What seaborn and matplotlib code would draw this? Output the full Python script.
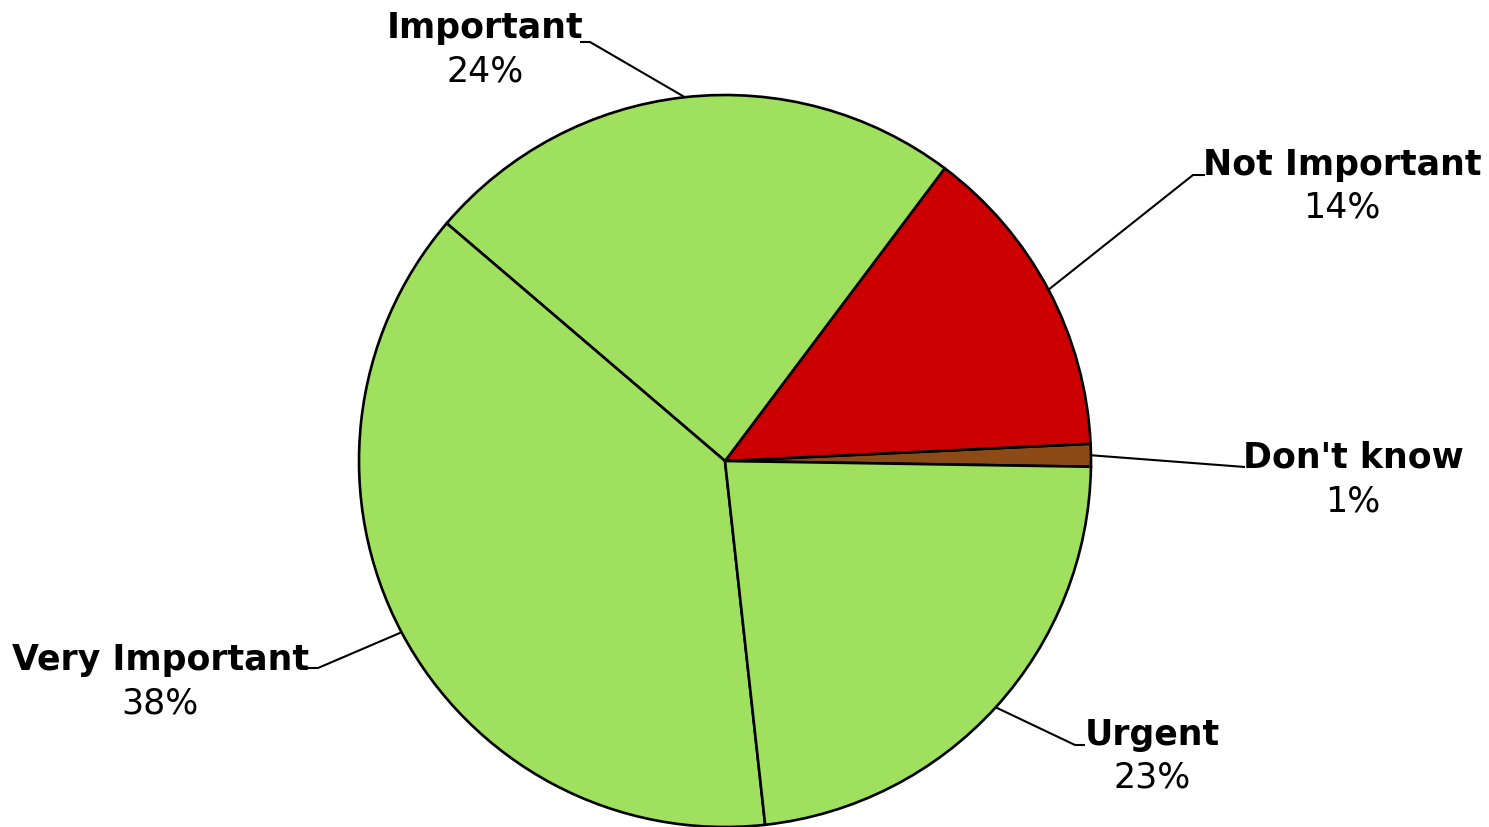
import numpy as np
import matplotlib
matplotlib.use("Agg")
import matplotlib.pyplot as plt
import seaborn as sns

# slices in counter-clockwise order starting at the right
categories = ["Don't know", "Not Important", "Important", "Very Important", "Urgent"]
shares = [1, 14, 24, 38, 23]
pct_labels = ["1%", "14%", "24%", "38%", "23%"]
slice_colors = ["#8b4a16", "#cc0000", "#9fe05e", "#9fe05e", "#9fe05e"]

W, H = 1489, 827

# label layout (pixel coords, y from top): text centre x, name baseline y, elbow, end of horizontal tick
label_pos = {
    "Don't know": (1353, 468, (1245, 467), (1245, 467)),
    "Not Important": (1342, 175, (1193, 175), (1205, 175)),
    "Important": (485, 38, (590, 42), (580, 42)),
    "Very Important": (160, 670, (318, 668), (305, 668)),
    "Urgent": (1152, 745, (1075, 745), (1085, 745)),
}


def fy(y):
    return H - y


sns.set_theme(style="white")
plt.rcParams["font.family"] = ["DejaVu Sans"]

fig = plt.figure(figsize=(W / 100, H / 100), dpi=100)
ax = fig.add_axes([0, 0, 1, 1])

cx, cy, r = 725, fy(461), 366
wedges, _ = ax.pie(
    shares,
    colors=slice_colors,
    startangle=-0.9,
    counterclock=True,
    center=(cx, cy),
    radius=r,
    wedgeprops=dict(edgecolor="black", linewidth=1.9),
)

for w, name, pct in zip(wedges, categories, pct_labels):
    mid = np.deg2rad((w.theta1 + w.theta2) / 2)
    ex, ey = cx + r * np.cos(mid), cy + r * np.sin(mid)
    tx, base, elbow, tick = label_pos[name]
    ax.plot([ex, elbow[0], tick[0]], [ey, fy(elbow[1]), fy(tick[1])],
            color="black", lw=1.5, solid_capstyle="butt")
    ax.text(tx, fy(base), name, ha="center", va="baseline",
            fontsize=25, fontweight="bold", color="black")
    ax.text(tx, fy(base) - 16, pct, ha="center", va="top",
            fontsize=25, color="black")

ax.set_xlim(0, W)
ax.set_ylim(0, H)
ax.set_aspect("auto")
ax.axis("off")

fig.savefig("out.png", dpi=100, facecolor="white")
